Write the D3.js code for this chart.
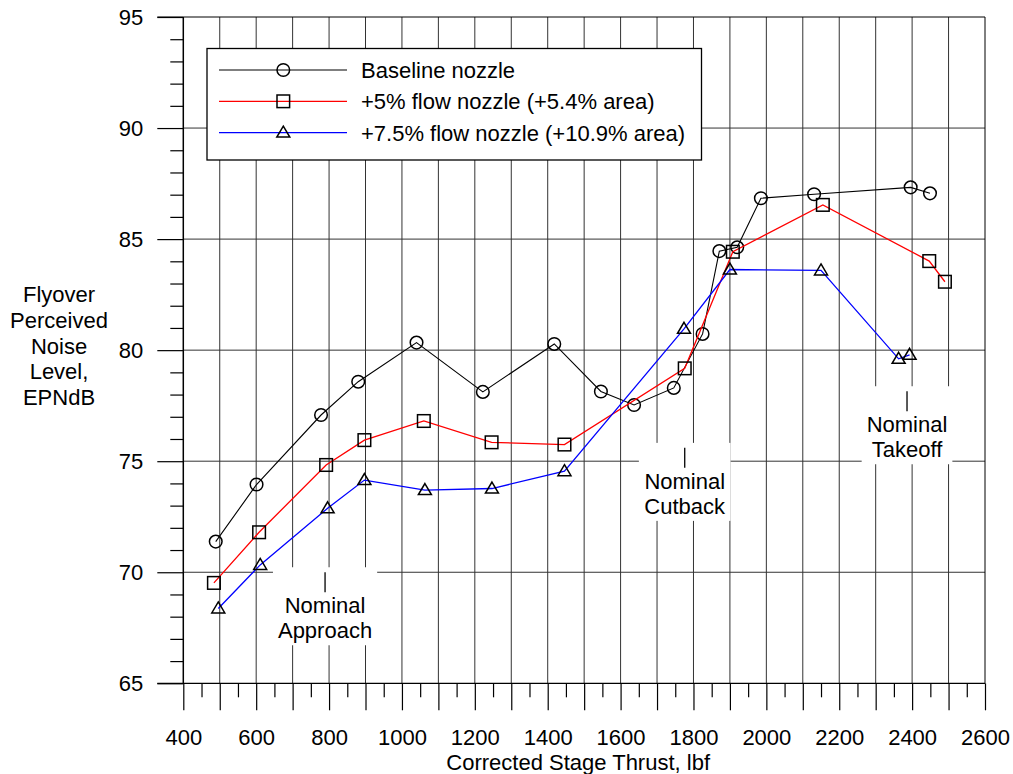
<!DOCTYPE html>
<html><head><meta charset="utf-8">
<script src="https://cdn.jsdelivr.net/npm/d3@7"></script>
<style>
html,body{margin:0;padding:0;background:#fff;}
svg text{font-family:"Liberation Sans",Arial,sans-serif;fill:#000;}
</style></head>
<body><svg id="c" width="1013" height="774"></svg>
<script>
// ---- data ----
const baselineX = [489, 601, 778, 880, 1040, 1222, 1418, 1546, 1637, 1746, 1825, 1871, 1920, 1985, 2131, 2396, 2449];
const baselineY = [71.38, 73.95, 77.08, 78.58, 80.34, 78.12, 80.28, 78.14, 77.53, 78.30, 80.73, 84.46, 84.63, 86.84, 87.02, 87.33, 87.06];
const flow5X = [484, 608, 792, 897, 1060, 1246, 1446, 1776, 1908, 2155, 2447, 2490];
const flow5Y = [69.52, 71.80, 74.83, 75.95, 76.81, 75.85, 75.75, 79.18, 84.43, 86.54, 84.01, 83.08];
const flow75X = [496, 611, 796, 897, 1063, 1247, 1446, 1774, 1900, 2150, 2363, 2393];
const flow75Y = [68.37, 70.33, 72.88, 74.15, 73.70, 73.77, 74.55, 80.96, 83.63, 83.59, 79.61, 79.79];
const seriesNames = ["Baseline nozzle", "+5% flow nozzle (+5.4% area)", "+7.5% flow nozzle (+10.9% area)"];
const xLabelTicks = [400, 600, 800, 1000, 1200, 1400, 1600, 1800, 2000, 2200, 2400, 2600];
const yLabelTicks = [65, 70, 75, 80, 85, 90, 95];
const annotNames = ["Approach", "Cutback", "Takeoff"];
const annotX = [789, 1776, 2386];
const annotY = [70.0, 75.6, 78.15];
const yTitle = ["Flyover", "Perceived", "Noise", "Level,", "EPNdB"];
const xTitle = "Corrected Stage Thrust, lbf";

// ---- layout ----
const svg = d3.select("#c");
const X0 = 183.3, X1 = 985, Y0 = 683.3, Y1 = 17;
const x = d3.scaleLinear().domain([400, 2600]).range([X0, X1]);
const y = d3.scaleLinear().domain([65, 95]).range([Y0, Y1]);
const FS = 22;
const gridColor = "#333";

// gridlines
const g = svg.append("g");
d3.range(500, 2600, 100).forEach(v => {
  g.append("line").attr("x1", x(v)).attr("x2", x(v)).attr("y1", Y1).attr("y2", Y0)
   .attr("stroke", gridColor).attr("stroke-width", 1);
});
d3.range(70, 95, 5).forEach(v => {
  g.append("line").attr("x1", X0).attr("x2", X1).attr("y1", y(v)).attr("y2", y(v))
   .attr("stroke", gridColor).attr("stroke-width", 1);
});
// borders
g.append("line").attr("x1", X0 - 26).attr("x2", X1).attr("y1", Y1).attr("y2", Y1).attr("stroke", "#000");
g.append("line").attr("x1", X1).attr("x2", X1).attr("y1", Y1).attr("y2", Y0).attr("stroke", "#000");

// axes
const xMinor = d3.axisBottom(x).tickValues(d3.range(450, 2600, 100)).tickSize(14).tickFormat("");
const xMajor = d3.axisBottom(x).tickValues(d3.range(400, 2700, 100)).tickSize(27).tickFormat("");
const xLab = d3.axisBottom(x).tickValues(xLabelTicks).tickSize(0).tickPadding(46).tickFormat(d3.format("d"));
[xMinor, xMajor, xLab].forEach((ax, i) => {
  const a = svg.append("g").attr("transform", `translate(0,${Y0})`).call(ax);
  a.selectAll("path").remove();
  a.selectAll("line").attr("stroke", "#000").attr("stroke-width", 1.2);
  a.selectAll("text").style("font-size", FS + "px").style("font-family", "Liberation Sans, Arial, sans-serif");
});
svg.append("line").attr("x1", X0 - 26).attr("x2", X1).attr("y1", Y0).attr("y2", Y0).attr("stroke", "#000").attr("stroke-width", 1.2);

const yMinor = d3.axisLeft(y).tickValues(d3.range(66, 95, 1).filter(v => v % 5 !== 0)).tickSize(13).tickFormat("");
const yMajor = d3.axisLeft(y).tickValues(yLabelTicks).tickSize(26).tickPadding(14).tickFormat(d3.format("d"));
[yMinor, yMajor].forEach(ax => {
  const a = svg.append("g").attr("transform", `translate(${X0},0)`).call(ax);
  a.selectAll("path").remove();
  a.selectAll("line").attr("stroke", "#000").attr("stroke-width", 1.2);
  a.selectAll("text").style("font-size", FS + "px").style("font-family", "Liberation Sans, Arial, sans-serif");
});
svg.append("line").attr("x1", X0).attr("x2", X0).attr("y1", Y1).attr("y2", Y0).attr("stroke", "#000").attr("stroke-width", 1.5);

// titles
svg.append("text").attr("x", (X0 + X1) / 2 - 6).attr("y", 770).attr("text-anchor", "middle")
  .style("font-size", FS + "px").text(xTitle);
const yt = svg.append("text").attr("text-anchor", "middle").style("font-size", FS + "px");
yTitle.forEach((t, i) => {
  yt.append("tspan").attr("x", 59).attr("y", 302 + i * 25.8).text(t);
});

// annotations
annotNames.forEach((nm, i) => {
  const ax = x(annotX[i]), ay = y(annotY[i]);
  const grp = svg.append("g");
  const r = grp.append("rect").attr("fill", "#fff");
  grp.append("line").attr("x1", ax).attr("x2", ax).attr("y1", ay).attr("y2", ay + 20)
    .attr("stroke", "#000").attr("stroke-width", 1.3);
  const t1 = grp.append("text").attr("x", ax).attr("y", ay + 41).attr("text-anchor", "middle").style("font-size", FS + "px").text("Nominal");
  const t2 = grp.append("text").attr("x", ax).attr("y", ay + 66).attr("text-anchor", "middle").style("font-size", FS + "px").text(nm);
  const w = Math.max(t1.node().getBBox().width, t2.node().getBBox().width) + 10;
  r.attr("x", ax - w / 2).attr("width", w).attr("y", ay - 5).attr("height", 78);
});

// series
const series = [
  {xs: baselineX, ys: baselineY, color: "#000", marker: "circle", lw: 1.1},
  {xs: flow5X, ys: flow5Y, color: "#ff0000", marker: "square", lw: 1.3},
  {xs: flow75X, ys: flow75Y, color: "#0000ff", marker: "triangle", lw: 1.3}
];
const line = d3.line().x(d => x(d[0])).y(d => y(d[1]));
function drawMarker(sel, type, cx, cy) {
  if (type === "circle") {
    sel.append("circle").attr("cx", cx).attr("cy", cy).attr("r", 6.3)
      .attr("fill", "none").attr("stroke", "#000").attr("stroke-width", 1.5);
  } else if (type === "square") {
    sel.append("rect").attr("x", cx - 6.3).attr("y", cy - 6.3).attr("width", 12.6).attr("height", 12.6)
      .attr("fill", "none").attr("stroke", "#000").attr("stroke-width", 1.5);
  } else {
    sel.append("path").attr("d", `M${cx},${cy - 6.5}L${cx + 6.5},${cy + 4.5}L${cx - 6.5},${cy + 4.5}Z`)
      .attr("fill", "none").attr("stroke", "#000").attr("stroke-width", 1.5);
  }
}
series.forEach(s => {
  const pts = s.xs.map((v, i) => [v, s.ys[i]]);
  svg.append("path").attr("d", line(pts)).attr("fill", "none").attr("stroke", s.color).attr("stroke-width", s.lw);
  const mg = svg.append("g");
  pts.forEach(p => drawMarker(mg, s.marker, x(p[0]), y(p[1])));
});

// legend
const lg = svg.append("g");
lg.append("rect").attr("x", 207).attr("y", 48.5).attr("width", 494.5).attr("height", 111.5)
  .attr("fill", "#fff").attr("stroke", "#000").attr("stroke-width", 1.3);
series.forEach((s, i) => {
  const ly = 70 + i * 31.3;
  lg.append("line").attr("x1", 219).attr("x2", 347).attr("y1", ly).attr("y2", ly)
    .attr("stroke", s.color).attr("stroke-width", s.lw);
  drawMarker(lg, s.marker, 283.3, ly);
  lg.append("text").attr("x", 361).attr("y", ly + 8).style("font-size", FS + "px").text(seriesNames[i]);
});
</script></body></html>
